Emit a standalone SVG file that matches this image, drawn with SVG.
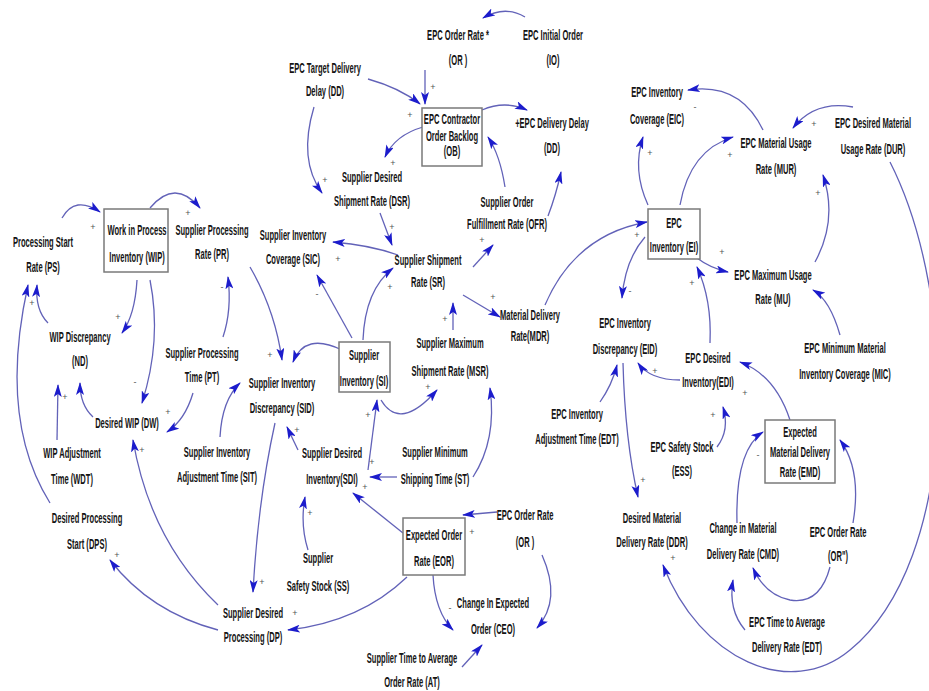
<svg xmlns="http://www.w3.org/2000/svg" width="929" height="691" viewBox="0 0 929 691">
  <style>
    .t { font-family: "Liberation Sans", Arial, sans-serif; font-weight: bold; font-size: 14px; fill: #141414; text-anchor: middle; transform: scaleX(0.54); }
    .box { fill: #ffffff; stroke: #7a7a7a; stroke-width: 1.5; }
    .c { fill: none; stroke: #6262b8; stroke-width: 1.3; marker-end: url(#ah); }
    .s { font-family: "Liberation Sans", Arial, sans-serif; font-size: 9px; fill: #555; text-anchor: middle; }
  </style>
  <defs>
    <marker id="ah" viewBox="0 0 13 8" refX="12" refY="4" markerWidth="13" markerHeight="8" markerUnits="userSpaceOnUse" orient="auto">
      <path d="M0,0 L13,4 L0,8 L3,4 Z" fill="#1c1ccc"/>
    </marker>
  </defs>
  <rect width="929" height="691" fill="#ffffff"/>

  <!-- connectors -->
  <g id="connectors">
    <path class="c" d="M525,17 Q505,5 483,18"/>
    <path class="c" d="M425,70 L425,104"/>
    <path class="c" d="M368,79 Q400,88 420,104"/>
    <path class="c" d="M314,107 Q298,160 322,193"/>
    <path class="c" d="M423,127 Q395,135 385,157"/>
    <path class="c" d="M482,110 Q505,100 527,110"/>
    <path class="c" d="M505,187 Q500,155 488,137"/>
    <path class="c" d="M548,216 Q556,195 561,172"/>
    <path class="c" d="M380,213 L392,245"/>
    <path class="c" d="M398,255 Q370,245 333,242"/>
    <path class="c" d="M473,267 L493,245"/>
    <path class="c" d="M463,295 L500,317"/>
    <path class="c" d="M453,330 L453,303"/>
    <path class="c" d="M352,338 L317,275"/>
    <path class="c" d="M363,340 Q365,290 393,268"/>
    <path class="c" d="M342,350 Q305,332 293,362"/>
    <path class="c" d="M250,267 Q275,310 282,360"/>
    <path class="c" d="M368,470 L377,400"/>
    <path class="c" d="M381,400 Q400,432 437,390"/>
    <path class="c" d="M473,477 Q497,440 490,388"/>
    <path class="c" d="M298,450 L287,427"/>
    <path class="c" d="M397,477 L370,477"/>
    <path class="c" d="M403,533 L353,493"/>
    <path class="c" d="M308,550 Q300,525 305,497"/>
    <path class="c" d="M497,512 L463,515"/>
    <path class="c" d="M407,577 Q360,622 288,630"/>
    <path class="c" d="M433,575 Q435,612 453,630"/>
    <path class="c" d="M542,555 Q562,600 537,628"/>
    <path class="c" d="M462,667 L482,645"/>
    <path class="c" d="M275,423 Q258,500 253,592"/>
    <path class="c" d="M220,437 Q222,400 240,383"/>
    <path class="c" d="M223,337 Q232,310 228,277"/>
    <path class="c" d="M193,393 Q185,420 167,432"/>
    <path class="c" d="M150,208 Q175,178 200,208"/>
    <path class="c" d="M62,218 Q75,195 100,212"/>
    <path class="c" d="M137,280 Q135,315 122,333"/>
    <path class="c" d="M150,280 Q162,340 142,403"/>
    <path class="c" d="M48,323 Q35,310 37,285"/>
    <path class="c" d="M50,503 Q-2,420 28,285"/>
    <path class="c" d="M57,440 L58,385"/>
    <path class="c" d="M93,417 Q80,405 80,383"/>
    <path class="c" d="M218,630 Q150,612 110,560"/>
    <path class="c" d="M218,605 Q150,540 133,440"/>

    <path class="c" d="M763,130 Q740,82 688,90"/>
    <path class="c" d="M853,107 Q815,100 793,128"/>
    <path class="c" d="M648,205 Q632,170 643,137"/>
    <path class="c" d="M680,205 Q690,150 733,137"/>
    <path class="c" d="M815,262 Q838,220 823,175"/>
    <path class="c" d="M840,335 Q830,300 813,290"/>
    <path class="c" d="M890,162 C960,300 960,560 850,650 C790,700 700,660 663,565"/>
    <path class="c" d="M545,305 Q575,235 647,222"/>
    <path class="c" d="M697,258 Q710,268 728,272"/>
    <path class="c" d="M645,237 Q625,260 622,298"/>
    <path class="c" d="M710,343 Q712,300 697,267"/>
    <path class="c" d="M680,380 Q650,380 638,363"/>
    <path class="c" d="M600,402 Q612,385 617,365"/>
    <path class="c" d="M623,363 Q625,440 638,497"/>
    <path class="c" d="M790,420 Q775,375 740,362"/>
    <path class="c" d="M717,447 Q730,430 723,407"/>
    <path class="c" d="M737,523 Q735,450 763,432"/>
    <path class="c" d="M853,523 Q862,470 840,440"/>
    <path class="c" d="M830,567 Q820,605 790,600 Q765,595 753,568"/>
    <path class="c" d="M745,630 Q728,610 733,580"/>
  </g>

  <!-- polarity signs -->
  <g id="signs">
    <text class="s" x="433" y="90">+</text>
    <text class="s" x="410" y="118">+</text>
    <text class="s" x="325" y="183">+</text>
    <text class="s" x="393" y="166">+</text>
    <text class="s" x="392" y="230">+</text>
    <text class="s" x="338" y="262">+</text>
    <text class="s" x="482" y="243">+</text>
    <text class="s" x="493" y="300">+</text>
    <text class="s" x="445" y="322">+</text>
    <text class="s" x="317" y="297">-</text>
    <text class="s" x="390" y="290">+</text>
    <text class="s" x="270" y="358">+</text>
    <text class="s" x="368" y="418">+</text>
    <text class="s" x="428" y="390">+</text>
    <text class="s" x="372" y="465">+</text>
    <text class="s" x="297" y="433">+</text>
    <text class="s" x="365" y="490">+</text>
    <text class="s" x="310" y="516">+</text>
    <text class="s" x="472" y="535">+</text>
    <text class="s" x="450" y="611">-</text>
    <text class="s" x="262" y="585">+</text>
    <text class="s" x="295" y="616">+</text>
    <text class="s" x="222" y="290">-</text>
    <text class="s" x="188" y="216">+</text>
    <text class="s" x="93" y="230">+</text>
    <text class="s" x="118" y="320">+</text>
    <text class="s" x="135" y="385">-</text>
    <text class="s" x="32" y="306">+</text>
    <text class="s" x="168" y="415">+</text>
    <text class="s" x="142" y="453">+</text>
    <text class="s" x="117" y="558">+</text>
    <text class="s" x="65" y="400">+</text>
    <text class="s" x="695" y="110">-</text>
    <text class="s" x="814" y="127">+</text>
    <text class="s" x="650" y="156">+</text>
    <text class="s" x="730" y="158">+</text>
    <text class="s" x="818" y="196">+</text>
    <text class="s" x="637" y="238">+</text>
    <text class="s" x="722" y="255">+</text>
    <text class="s" x="630" y="294">-</text>
    <text class="s" x="692" y="286">+</text>
    <text class="s" x="655" y="374">+</text>
    <text class="s" x="643" y="483">+</text>
    <text class="s" x="745" y="396">+</text>
    <text class="s" x="713" y="418">+</text>
    <text class="s" x="758" y="458">-</text>
    <text class="s" x="673" y="561">+</text>
  </g>

  <!-- variables -->
  <g id="n-or-top" transform="translate(458,39.5)"><text class="t"><tspan x="0">EPC Order Rate *</tspan><tspan x="0" dy="26">(OR )</tspan></text></g>
  <g id="n-io" transform="translate(553,39.5)"><text class="t"><tspan x="0">EPC Initial Order</tspan><tspan x="0" dy="26">(IO)</tspan></text></g>
  <g id="n-dd-target" transform="translate(325,72.5)"><text class="t"><tspan x="0">EPC Target Delivery</tspan><tspan x="0" dy="24">Delay (DD)</tspan></text></g>
  <g id="n-ob">
    <rect class="box" x="422" y="108" width="60" height="58"/>
    <g transform="translate(452,124)"><text class="t"><tspan x="0">EPC Contractor</tspan><tspan x="0" dy="17">Order Backlog</tspan><tspan x="0" dy="15">(OB)</tspan></text></g>
  </g>
  <g id="n-dd" transform="translate(552,127.5)"><text class="t"><tspan x="0">+EPC Delivery Delay</tspan><tspan x="0" dy="26">(DD)</tspan></text></g>
  <g id="n-dsr" transform="translate(372,181.5)"><text class="t"><tspan x="0">Supplier Desired</tspan><tspan x="0" dy="25">Shipment Rate (DSR)</tspan></text></g>
  <g id="n-ofr" transform="translate(507,206.5)"><text class="t"><tspan x="0">Supplier Order</tspan><tspan x="0" dy="23">Fulfillment Rate (OFR)</tspan></text></g>
  <g id="n-sic" transform="translate(293,239.5)"><text class="t"><tspan x="0">Supplier Inventory</tspan><tspan x="0" dy="25">Coverage (SIC)</tspan></text></g>
  <g id="n-sr" transform="translate(428,264.5)"><text class="t"><tspan x="0">Supplier Shipment</tspan><tspan x="0" dy="23">Rate (SR)</tspan></text></g>
  <g id="n-mdr" transform="translate(530,319.5)"><text class="t"><tspan x="0">Material Delivery</tspan><tspan x="0" dy="22">Rate(MDR)</tspan></text></g>
  <g id="n-ps" transform="translate(43,246.5)"><text class="t"><tspan x="0">Processing Start</tspan><tspan x="0" dy="26">Rate (PS)</tspan></text></g>
  <g id="n-wip">
    <rect class="box" x="104" y="209" width="64" height="63"/>
    <g transform="translate(137,234.5)"><text class="t"><tspan x="0">Work in Process</tspan><tspan x="0" dy="28">Inventory (WIP)</tspan></text></g>
  </g>
  <g id="n-pr" transform="translate(212,234.5)"><text class="t"><tspan x="0">Supplier Processing</tspan><tspan x="0" dy="25">Rate (PR)</tspan></text></g>
  <g id="n-nd" transform="translate(80,341.5)"><text class="t"><tspan x="0">WIP Discrepancy</tspan><tspan x="0" dy="25">(ND)</tspan></text></g>
  <g id="n-pt" transform="translate(202,357.5)"><text class="t"><tspan x="0">Supplier Processing</tspan><tspan x="0" dy="25">Time (PT)</tspan></text></g>
  <g id="n-sid" transform="translate(282,387.5)"><text class="t"><tspan x="0">Supplier Inventory</tspan><tspan x="0" dy="26">Discrepancy (SID)</tspan></text></g>
  <g id="n-si">
    <rect class="box" x="339" y="342" width="51" height="50"/>
    <g transform="translate(364,359.5)"><text class="t"><tspan x="0">Supplier</tspan><tspan x="0" dy="27">Inventory (SI)</tspan></text></g>
  </g>
  <g id="n-msr" transform="translate(450,347.5)"><text class="t"><tspan x="0">Supplier Maximum</tspan><tspan x="0" dy="29">Shipment Rate (MSR)</tspan></text></g>
  <g id="n-dw" transform="translate(127,427.5)"><text class="t">Desired WIP (DW)</text></g>
  <g id="n-sit" transform="translate(217,456.5)"><text class="t"><tspan x="0">Supplier Inventory</tspan><tspan x="0" dy="26">Adjustment Time (SIT)</tspan></text></g>
  <g id="n-sdi" transform="translate(332,457.5)"><text class="t"><tspan x="0">Supplier Desired</tspan><tspan x="0" dy="27">Inventory(SDI)</tspan></text></g>
  <g id="n-st" transform="translate(435,456.5)"><text class="t"><tspan x="0">Supplier Minimum</tspan><tspan x="0" dy="28">Shipping Time (ST)</tspan></text></g>
  <g id="n-wdt" transform="translate(72,457.5)"><text class="t"><tspan x="0">WIP Adjustment</tspan><tspan x="0" dy="27">Time (WDT)</tspan></text></g>
  <g id="n-dps" transform="translate(87,522.5)"><text class="t"><tspan x="0">Desired Processing</tspan><tspan x="0" dy="27">Start (DPS)</tspan></text></g>
  <g id="n-ss" transform="translate(318,562.5)"><text class="t"><tspan x="0">Supplier</tspan><tspan x="0" dy="29">Safety Stock (SS)</tspan></text></g>
  <g id="n-eor">
    <rect class="box" x="403" y="518" width="62" height="57"/>
    <g transform="translate(434,539.5)"><text class="t"><tspan x="0">Expected Order</tspan><tspan x="0" dy="27">Rate (EOR)</tspan></text></g>
  </g>
  <g id="n-or-mid" transform="translate(525,519.5)"><text class="t"><tspan x="0">EPC Order Rate</tspan><tspan x="0" dy="28">(OR )</tspan></text></g>
  <g id="n-ceo" transform="translate(493,607.5)"><text class="t"><tspan x="0">Change In Expected</tspan><tspan x="0" dy="27">Order (CEO)</tspan></text></g>
  <g id="n-dp" transform="translate(253,617.5)"><text class="t"><tspan x="0">Supplier Desired</tspan><tspan x="0" dy="25">Processing (DP)</tspan></text></g>
  <g id="n-at" transform="translate(412,662.5)"><text class="t"><tspan x="0">Supplier Time to Average</tspan><tspan x="0" dy="25">Order Rate (AT)</tspan></text></g>

  <g id="n-eic" transform="translate(657,96.5)"><text class="t"><tspan x="0">EPC Inventory</tspan><tspan x="0" dy="28">Coverage (EIC)</tspan></text></g>
  <g id="n-mur" transform="translate(776,147.5)"><text class="t"><tspan x="0">EPC Material Usage</tspan><tspan x="0" dy="27">Rate (MUR)</tspan></text></g>
  <g id="n-dur" transform="translate(873,127.5)"><text class="t"><tspan x="0">EPC Desired Material</tspan><tspan x="0" dy="27">Usage Rate (DUR)</tspan></text></g>
  <g id="n-ei">
    <rect class="box" x="648" y="209" width="52" height="50"/>
    <g transform="translate(674,227.5)"><text class="t"><tspan x="0">EPC</tspan><tspan x="0" dy="25">Inventory (EI)</tspan></text></g>
  </g>
  <g id="n-mu" transform="translate(773,279.5)"><text class="t"><tspan x="0">EPC Maximum Usage</tspan><tspan x="0" dy="25">Rate (MU)</tspan></text></g>
  <g id="n-eid" transform="translate(625,327.5)"><text class="t"><tspan x="0">EPC Inventory</tspan><tspan x="0" dy="27">Discrepancy (EID)</tspan></text></g>
  <g id="n-edi" transform="translate(708,362.5)"><text class="t"><tspan x="0">EPC Desired</tspan><tspan x="0" dy="25">Inventory(EDI)</tspan></text></g>
  <g id="n-mic" transform="translate(845,352.5)"><text class="t"><tspan x="0">EPC Minimum Material</tspan><tspan x="0" dy="27">Inventory Coverage (MIC)</tspan></text></g>
  <g id="n-edt" transform="translate(577,418.5)"><text class="t"><tspan x="0">EPC Inventory</tspan><tspan x="0" dy="26">Adjustment Time (EDT)</tspan></text></g>
  <g id="n-ess" transform="translate(682,451.5)"><text class="t"><tspan x="0">EPC Safety Stock</tspan><tspan x="0" dy="25">(ESS)</tspan></text></g>
  <g id="n-emd">
    <rect class="box" x="765" y="420" width="70" height="63"/>
    <g transform="translate(800,436.5)"><text class="t"><tspan x="0">Expected</tspan><tspan x="0" dy="21">Material Delivery</tspan><tspan x="0" dy="20">Rate (EMD)</tspan></text></g>
  </g>
  <g id="n-ddr" transform="translate(652,522.5)"><text class="t"><tspan x="0">Desired Material</tspan><tspan x="0" dy="25">Delivery Rate (DDR)</tspan></text></g>
  <g id="n-cmd" transform="translate(743,532.5)"><text class="t"><tspan x="0">Change in Material</tspan><tspan x="0" dy="27">Delivery Rate (CMD)</tspan></text></g>
  <g id="n-or-right" transform="translate(838,536.5)"><text class="t"><tspan x="0">EPC Order Rate</tspan><tspan x="0" dy="25">(OR")</tspan></text></g>
  <g id="n-edt2" transform="translate(787,626.5)"><text class="t"><tspan x="0">EPC Time to Average</tspan><tspan x="0" dy="26">Delivery Rate (EDT)</tspan></text></g>
</svg>
